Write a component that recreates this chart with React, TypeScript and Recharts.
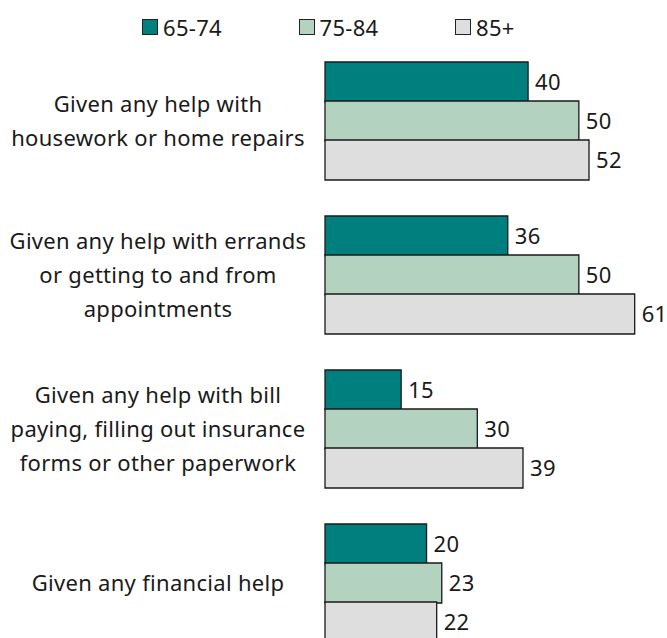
import { BarChart, Bar, XAxis, YAxis, Legend, LabelList } from "recharts"

const categories = [
  "Given any help with\nhousework or home repairs",
  "Given any help with errands\nor getting to and from\nappointments",
  "Given any help with bill\npaying, filling out insurance\nforms or other paperwork",
  "Given any financial help",
]
const age6574 = [40, 36, 15, 20]
const age7584 = [50, 50, 30, 23]
const age85plus = [52, 61, 39, 22]

const seriesNames = ["65-74", "75-84", "85+"]
const seriesKeys = ["a", "b", "c"]
const colors = ["#007f7f", "#b3d3c0", "#dedede"]

const data = categories.map((name, i) => ({
  name,
  a: age6574[i],
  b: age7584[i],
  c: age85plus[i],
}))

const TEXT = "#1a1a1a"
const LABEL_CENTER = 158

function CategoryTick({ y, payload }: any) {
  const lines = String(payload.value).split("\n")
  return (
    <text x={LABEL_CENTER} y={y} textAnchor="middle" fill={TEXT} fontSize={22} letterSpacing={0.3}>
      {lines.map((line, i) => (
        <tspan key={i} x={LABEL_CENTER} y={y + (i - (lines.length - 1) / 2) * 34} dy="0.35em">
          {line}
        </tspan>
      ))}
    </text>
  )
}

function AgeLegend() {
  return (
    <div style={{ height: 44, position: "relative" }}>
      {seriesNames.map((n, i) => (
        <div
          key={n}
          style={{
            position: "absolute",
            left: 142 + i * 156.5,
            top: 17,
            height: 20,
            display: "flex",
            alignItems: "center",
          }}
        >
          <span
            style={{
              width: 14,
              height: 14,
              background: colors[i],
              border: "1px solid #222",
              marginRight: 5,
              display: "inline-block",
            }}
          />
          <span style={{ fontSize: 22, lineHeight: "20px", color: TEXT, letterSpacing: 0.3 }}>{n}</span>
        </div>
      ))}
    </div>
  )
}

export default function App() {
  return (
    <div
      style={{
        position: "fixed",
        top: 0,
        left: 0,
        width: 667,
        height: 638,
        overflow: "hidden",
        background: "#fff",
        fontFamily: "'Noto Sans', sans-serif",
      }}
    >
      <BarChart
        width={667}
        height={662}
        data={data}
        layout="vertical"
        margin={{ top: 0, right: 12, left: 0, bottom: 2 }}
        barGap={-1}
      >
        <XAxis type="number" domain={[0, 65]} hide />
        <YAxis
          type="category"
          dataKey="name"
          width={325}
          axisLine={false}
          tickLine={false}
          tick={<CategoryTick />}
          interval={0}
        />
        <Legend
          verticalAlign="top"
          content={<AgeLegend />}
          wrapperStyle={{ left: 0, top: 0, width: 667 }}
        />
        {seriesKeys.map((k, i) => (
          <Bar
            key={k}
            dataKey={k}
            name={seriesNames[i]}
            fill={colors[i]}
            stroke={TEXT}
            strokeWidth={1.3}
            barSize={40}
            isAnimationActive={false}
          >
            <LabelList dataKey={k} position="right" offset={7} fill={TEXT} fontSize={22} letterSpacing={0.3} />
          </Bar>
        ))}
      </BarChart>
    </div>
  )
}
